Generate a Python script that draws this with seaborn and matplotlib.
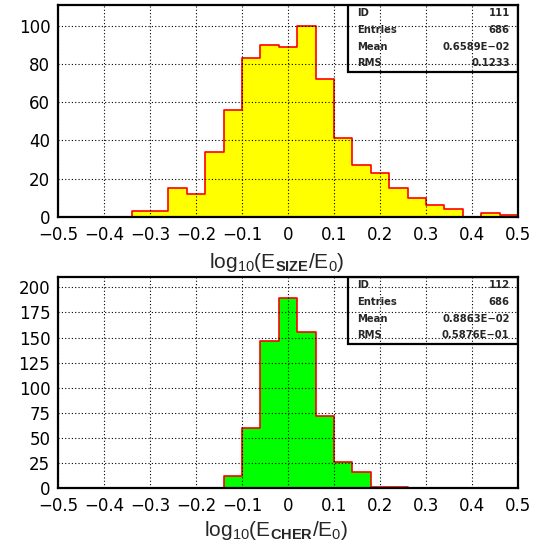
import numpy as np
import pandas as pd
import matplotlib
matplotlib.use("Agg")
import matplotlib.pyplot as plt
from matplotlib.patches import Rectangle
from matplotlib.ticker import MultipleLocator, FixedLocator, FixedFormatter
import seaborn as sns

# ---- data ----
bin_edges = [round(-0.5 + 0.04 * i, 2) for i in range(26)]
size_counts = [0, 0, 0, 0, 3, 3, 15, 12, 34, 56, 83, 90, 89, 100, 72, 41, 27, 23, 15, 10, 6, 4, 0, 2, 1]
cher_counts = [0, 0, 0, 0, 0, 0, 0, 0, 0, 12, 60, 147, 189, 156, 72, 26, 16, 1, 1, 0, 0, 0, 0, 0, 0]

x_ticks = [-0.5, -0.4, -0.3, -0.2, -0.1, 0, 0.1, 0.2, 0.3, 0.4, 0.5]
x_tick_labels = ["\u22120.5", "\u22120.4", "\u22120.3", "\u22120.2", "\u22120.1", "0", "0.1", "0.2", "0.3", "0.4", "0.5"]
size_yticks = [0, 20, 40, 60, 80, 100]
cher_yticks = [0, 25, 50, 75, 100, 125, 150, 175, 200]

stat_labels = ["ID", "Entries", "Mean", "RMS"]
size_stats = ["111", "686", "0.6589E\u221202", "0.1233"]
cher_stats = ["112", "686", "0.8863E\u221202", "0.5876E\u221201"]

size_xlabel = r"log$_{10}$(E$_{\mathbf{SIZE}}$/E$_0$)"
cher_xlabel = r"log$_{10}$(E$_{\mathbf{CHER}}$/E$_0$)"

edges_arr = np.array(bin_edges)
centers = (edges_arr[:-1] + edges_arr[1:]) / 2

sns.set_style("white")
plt.rcParams['font.family'] = ['DejaVu Sans']
plt.rcParams['mathtext.fontset'] = 'custom'
plt.rcParams['mathtext.rm'] = 'Liberation Sans'
plt.rcParams['mathtext.bf'] = 'Liberation Sans:bold'

fig = plt.figure(figsize=(5.43, 5.51), dpi=100)
ax1 = fig.add_axes([0.1068, 0.6067, 0.8471, 0.3848])
ax2 = fig.add_axes([0.1068, 0.1138, 0.8471, 0.3830])


def draw(ax, counts, fill, yticks, ylim, yminor, xlabel, stats, label_y):
    df = pd.DataFrame({"x": centers, "w": np.array(counts, dtype=float)})
    sns.histplot(data=df, x="x", weights="w", bins=bin_edges, element="step",
                 fill=True, color=fill, alpha=1.0, edgecolor="#ff0000",
                 linewidth=1.2, ax=ax, zorder=2)
    ax.set_xlim(-0.5, 0.5)
    ax.set_ylim(*ylim)
    ax.xaxis.set_major_locator(FixedLocator(x_ticks))
    ax.xaxis.set_major_formatter(FixedFormatter(x_tick_labels))
    ax.xaxis.set_minor_locator(MultipleLocator(0.02))
    ax.set_yticks(yticks)
    ax.set_yticklabels([str(v) for v in yticks])
    ax.yaxis.set_minor_locator(MultipleLocator(yminor))
    ax.tick_params(axis="both", which="both", direction="in", colors="black",
                   labelsize=12, width=1.0)
    ax.tick_params(axis="x", which="major", length=7, pad=6.5)
    ax.tick_params(axis="x", which="minor", length=3.5)
    ax.tick_params(axis="y", which="major", length=4, pad=5.5)
    ax.tick_params(axis="y", which="minor", length=2.5)
    ax.set_axisbelow(False)
    ax.grid(True, which="major", color="black", linestyle=(0, (1, 2)), linewidth=0.8)
    for s in ax.spines.values():
        s.set_visible(True)
        s.set_color("black")
        s.set_linewidth(1.6)
        s.set_zorder(5)
    ax.set_ylabel("")
    ax.set_xlabel(xlabel, fontsize=15, family="Liberation Sans")
    ax.xaxis.set_label_coords(0.475, label_y)
    ax.xaxis.label.set_va("center")
    # stats box
    x0, y0 = 0.631, 0.683
    ax.add_patch(Rectangle((x0, y0), 1 - x0, 1 - y0, transform=ax.transAxes,
                           facecolor="none", edgecolor="black", linewidth=1.6, zorder=6))
    ys = [0.961, 0.881, 0.800, 0.725]
    for lab, val, yy in zip(stat_labels, stats, ys):
        ax.text(0.65, yy, lab, transform=ax.transAxes, fontsize=7.2,
                fontweight="bold", va="center", ha="left", zorder=7)
        ax.text(0.982, yy, val, transform=ax.transAxes, fontsize=7.2,
                fontweight="bold", va="center", ha="right", zorder=7)


draw(ax1, size_counts, "#ffff00", size_yticks, (0, 111), 5, size_xlabel, size_stats, -0.218)
draw(ax2, cher_counts, "#00ff00", cher_yticks, (0, 210), 5, cher_xlabel, cher_stats, -0.198)

fig.savefig("out.png", dpi=100)
